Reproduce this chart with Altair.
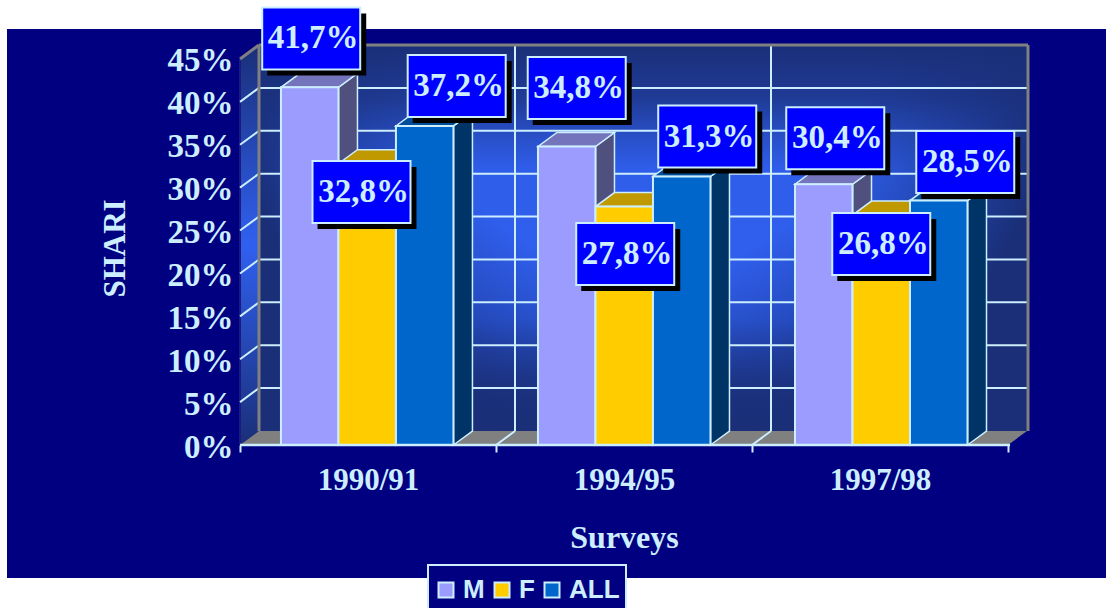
import altair as alt
import pandas as pd

# Survey shares per series, in percent
surveys = ["1990/91", "1994/95", "1997/98"]
series = ["M", "F", "ALL"]
share_m = [41.7, 34.8, 30.4]
share_f = [32.8, 27.8, 26.8]
share_all = [37.2, 31.3, 28.5]
tick_values = [0, 5, 10, 15, 20, 25, 30, 35, 40, 45]

# Placement of the value boxes relative to each bar's top centre, in pixels
box_dx = [[1.5, -5.7, 32], [10, 1, 25.5], [11.5, 0, 26.5]]
box_dy = [[-48.8, 28.4, -40], [-58.5, 47.5, -40], [-46, 29, -38.5]]

# Plot area and the pixel size of one unit on each scale
PLOT_W, PLOT_H = 788, 400
PX_X = 256.0
PX_Y = 8.578
DX = 19 / PX_X
DY = 14 / PX_Y
X_MAX = PLOT_W / PX_X
Y_MAX = PLOT_H / PX_Y
BAR_W = 0.2246
GROUP_START = [0.16, 1.164, 2.168]
BOX_W, BOX_H = 98 / PX_X, 62 / PX_Y

NAVY = "#000080"
PALE = "#cceeff"
GREY = "#808080"
FRONT = {"M": "#9c9cff", "F": "#ffcc00", "ALL": "#0066cc"}
TOP = {"M": "#7474bc", "F": "#c09900", "ALL": "#004d99"}
SIDE = {"M": "#50507f", "F": "#806600", "ALL": "#003366"}
SERIF = "Liberation Serif"

x_scale = alt.Scale(domain=[0, X_MAX], nice=False, zero=False)
y_scale = alt.Scale(domain=[0, Y_MAX], nice=False, zero=False)

# Assemble the bar faces and the value boxes
fronts, tops, sides, boxes = [], [], [], []
for g, start in enumerate(GROUP_START):
    for s, (name, values) in enumerate(zip(series, [share_m, share_f, share_all])):
        v = values[g]
        x0 = start + s * BAR_W
        x1 = x0 + BAR_W
        bar_id = f"{g}-{name}"
        fronts.append({"series": name, "x0": x0, "x1": x1, "v": v})
        for x, lo, hi in [
            (x0, v, v),
            (x0 + DX, v, v + DY),
            (x1, v, v + DY),
            (x1 + DX, v + DY, v + DY),
        ]:
            tops.append({"bar": bar_id, "x": x, "lo": lo, "hi": hi, "face": TOP[name]})
        for x, lo, hi in [(x1, 0, v), (x1 + DX, DY, v + DY)]:
            sides.append({"bar": bar_id, "x": x, "lo": lo, "hi": hi, "face": SIDE[name]})
        cx = (x0 + x1) / 2 + box_dx[g][s] / PX_X
        cy = v - box_dy[g][s] / PX_Y
        boxes.append({
            "cx": cx, "cy": cy,
            "bx0": cx - BOX_W / 2, "bx1": cx + BOX_W / 2,
            "by0": cy - BOX_H / 2, "by1": cy + BOX_H / 2,
            "sx0": cx - BOX_W / 2 + 5 / PX_X, "sx1": cx + BOX_W / 2 + 6 / PX_X,
            "sy0": cy - BOX_H / 2 - 6 / PX_Y, "sy1": cy + BOX_H / 2 - 6 / PX_Y,
            "tx": cx + 2 / PX_X,
            "label": f"{v:.1f}".replace(".", ",") + "%",
        })
fronts, tops, sides, boxes = map(pd.DataFrame, (fronts, tops, sides, boxes))

h_grid = pd.DataFrame({"y": [t + DY for t in tick_values[1:-1]]})
slants = pd.DataFrame(
    [{"t": t, "x": 0, "y": t} for t in tick_values[1:]]
    + [{"t": t, "x": DX, "y": t + DY} for t in tick_values[1:]]
)
floor_slants = pd.DataFrame(
    [{"t": i, "x": i, "y": 0} for i in (1, 2)]
    + [{"t": i, "x": i + DX, "y": DY} for i in (1, 2)]
)
v_grid = pd.DataFrame({"x": [1 + DX, 2 + DX]})
wall = pd.DataFrame({"x0": [DX], "x1": [X_MAX], "y0": [DY], "y1": [Y_MAX]})
floor = pd.DataFrame({"x": [0, DX, 3.0, 3.0 + DX], "lo": [0, 0, 0, DY], "hi": [0, DY, DY, DY]})
left_wall = pd.DataFrame({"x": [0, DX], "lo": [0, DY], "hi": [45, Y_MAX]})

label_expr = " : ".join(
    f"datum.value == {i + 0.5} ? '{name}'" for i, name in enumerate(surveys)
) + " : ''"

x_axis = alt.Axis(
    values=[0, 0.5, 1, 1.5, 2, 2.5, 3],
    labelExpr=label_expr,
    labelFont=SERIF, labelFontWeight="bold", labelFontSize=31, labelColor=PALE,
    labelAngle=0, labelPadding=13, labelOverlap=False, labelFlush=False,
    domain=False, grid=False, tickSize=7, tickWidth=2, zindex=1,
    tickColor=alt.expr(f"datum.value % 1 == 0 ? '{PALE}' : 'transparent'"),
    title="Surveys", titleFont=SERIF, titleFontWeight="bold", titleFontSize=32, titleColor=PALE,
    titleX=384, titleY=102, titleAnchor="middle", titleBaseline="alphabetic",
)
y_axis = alt.Axis(
    values=tick_values,
    labelExpr="datum.value + '%'",
    labelFont=SERIF, labelFontWeight="bold", labelFontSize=33, labelColor=PALE,
    labelPadding=7, labelOffset=2, labelOverlap=False, labelFlush=False, zindex=1,
    domain=False, grid=False, ticks=False, tickSize=0,
    title="SHARI", titleFont=SERIF, titleFontWeight="bold", titleFontSize=31, titleColor=PALE,
    titleX=-109, titleY=203, titleAnchor="middle", titleAngle=270,
)

# Dark panel behind the whole chart
panel = alt.Chart(pd.DataFrame({"a": [0]})).mark_rect(color=NAVY).encode(
    x=alt.value(-233), x2=alt.value(866), y=alt.value(-16), y2=alt.value(533)
)

# Back wall: a horizontal glow, darkened towards the top and bottom by an overlay
wall_fill = alt.RadialGradient(
    gradient="radial", x1=0.5, y1=0.25, r1=0.0, x2=0.5, y2=0.25, r2=0.54,
    stops=[
        alt.GradientStop(offset=0.0, color="#3060f0"),
        alt.GradientStop(offset=0.55, color="#3060f0"),
        alt.GradientStop(offset=0.78, color="#2448b8"),
        alt.GradientStop(offset=1.0, color="#1a2f78"),
    ],
)
wall_layer = alt.Chart(wall).mark_rect(fill=wall_fill).encode(
    x=alt.X("x0:Q", scale=x_scale, axis=x_axis),
    x2="x1:Q",
    y=alt.Y("y0:Q", scale=y_scale, axis=y_axis),
    y2="y1:Q",
)
wall_shade = alt.LinearGradient(
    gradient="linear", x1=0, y1=0, x2=0, y2=1,
    stops=[
        alt.GradientStop(offset=0.0, color="rgba(26,47,120,1)"),
        alt.GradientStop(offset=0.14, color="rgba(26,47,120,0.75)"),
        alt.GradientStop(offset=0.22, color="rgba(26,47,120,0.4)"),
        alt.GradientStop(offset=0.32, color="rgba(26,47,120,0.05)"),
        alt.GradientStop(offset=0.71, color="rgba(26,47,120,0)"),
        alt.GradientStop(offset=0.82, color="rgba(26,47,120,0.45)"),
        alt.GradientStop(offset=0.92, color="rgba(26,47,120,0.9)"),
        alt.GradientStop(offset=1.0, color="rgba(26,47,120,1)"),
    ],
)
shade_layer = alt.Chart(wall).mark_rect(fill=wall_shade).encode(
    x=alt.X("x0:Q", scale=x_scale), x2="x1:Q", y=alt.Y("y0:Q", scale=y_scale), y2="y1:Q"
)

left_fill = alt.LinearGradient(
    gradient="linear", x1=0, y1=0, x2=0, y2=1,
    stops=[
        alt.GradientStop(offset=0.0, color="#1a2f78"),
        alt.GradientStop(offset=0.5, color="#3060f0"),
        alt.GradientStop(offset=1.0, color="#1a2f78"),
    ],
)
left_layer = alt.Chart(left_wall).mark_area(fill=left_fill).encode(
    x=alt.X("x:Q", scale=x_scale), y=alt.Y("lo:Q", scale=y_scale), y2="hi:Q"
)
left_edge = alt.Chart(pd.DataFrame({"a": [0]})).mark_rule(color="#1a1a80", strokeWidth=2).encode(
    x=alt.datum(0, scale=x_scale), y=alt.datum(0, scale=y_scale), y2=alt.datum(45)
)
floor_layer = alt.Chart(floor).mark_area(fill=GREY).encode(
    x=alt.X("x:Q", scale=x_scale), y=alt.Y("lo:Q", scale=y_scale), y2="hi:Q"
)

# Gridlines on the back wall, the left wall and the floor
h_layer = alt.Chart(h_grid).mark_rule(color=PALE, strokeWidth=2).encode(
    x=alt.datum(DX, scale=x_scale), x2=alt.datum(X_MAX), y=alt.Y("y:Q", scale=y_scale)
)
v_layer = alt.Chart(v_grid).mark_rule(color=PALE, strokeWidth=2).encode(
    x=alt.X("x:Q", scale=x_scale), y=alt.datum(DY, scale=y_scale), y2=alt.datum(Y_MAX)
)
slant_layer = alt.Chart(slants[slants.t < 45]).mark_line(color=PALE, strokeWidth=2).encode(
    x=alt.X("x:Q", scale=x_scale), y=alt.Y("y:Q", scale=y_scale), detail="t:N"
)
floor_slant_layer = alt.Chart(floor_slants).mark_line(color=PALE, strokeWidth=2).encode(
    x=alt.X("x:Q", scale=x_scale), y=alt.Y("y:Q", scale=y_scale), detail="t:N"
)

# Grey frame around the walls
top_slant = alt.Chart(slants[slants.t == 45]).mark_line(color=GREY, strokeWidth=3).encode(
    x=alt.X("x:Q", scale=x_scale), y=alt.Y("y:Q", scale=y_scale)
)
frame_top = alt.Chart(wall).mark_rule(color=GREY, strokeWidth=3).encode(
    x=alt.X("x0:Q", scale=x_scale), x2="x1:Q", y=alt.Y("y1:Q", scale=y_scale)
)
frame_left = alt.Chart(wall).mark_rule(color=GREY, strokeWidth=3).encode(
    x=alt.X("x0:Q", scale=x_scale), y=alt.Y("y0:Q", scale=y_scale), y2="y1:Q"
)
frame_right = alt.Chart(wall).mark_rule(color=GREY, strokeWidth=3).encode(
    x=alt.X("x1:Q", scale=x_scale), y=alt.Y("y0:Q", scale=y_scale), y2="y1:Q"
)

# Three-dimensional bars: side faces, then top faces, then front faces
side_layer = alt.Chart(sides).mark_area(stroke=PALE, strokeWidth=1.5).encode(
    x=alt.X("x:Q", scale=x_scale), y=alt.Y("lo:Q", scale=y_scale), y2="hi:Q",
    fill=alt.Fill("face:N", scale=None, legend=None), detail="bar:N",
)
top_layer = alt.Chart(tops).mark_area(stroke=PALE, strokeWidth=1.5).encode(
    x=alt.X("x:Q", scale=x_scale), y=alt.Y("lo:Q", scale=y_scale), y2="hi:Q",
    fill=alt.Fill("face:N", scale=None, legend=None), detail="bar:N",
)
front_layer = alt.Chart(fronts).mark_rect(stroke=PALE, strokeWidth=2).encode(
    x=alt.X("x0:Q", scale=x_scale), x2="x1:Q",
    y=alt.Y("v:Q", scale=y_scale), y2=alt.datum(0),
    color=alt.Color(
        "series:N",
        scale=alt.Scale(domain=series, range=[FRONT[s] for s in series]),
        legend=alt.Legend(
            title=None, orient="none", legendX=193, legendY=532,
            direction="horizontal", columns=3, symbolType="square", symbolSize=225,
            symbolStrokeColor=PALE, symbolStrokeWidth=2, symbolOpacity=1,
            labelFont="Liberation Sans", labelFontWeight="bold", labelFontSize=26,
            labelColor=PALE, labelOffset=4, columnPadding=4, padding=0,
        ),
    ),
)

# Axis line along the front of the floor
base_line = alt.Chart(pd.DataFrame({"a": [0]})).mark_rule(color=PALE, strokeWidth=2.5).encode(
    x=alt.datum(0, scale=x_scale), x2=alt.datum(3 + 0.008), y=alt.datum(0, scale=y_scale)
)

# Value boxes with hard drop shadows
shadow_layer = alt.Chart(boxes).mark_rect(color="#000000").encode(
    x=alt.X("sx0:Q", scale=x_scale), x2="sx1:Q", y=alt.Y("sy0:Q", scale=y_scale), y2="sy1:Q"
)
box_layer = alt.Chart(boxes).mark_rect(fill="#0000ff", stroke=PALE, strokeWidth=2).encode(
    x=alt.X("bx0:Q", scale=x_scale), x2="bx1:Q", y=alt.Y("by0:Q", scale=y_scale), y2="by1:Q"
)
text_layer = alt.Chart(boxes).mark_text(
    font=SERIF, fontWeight="bold", fontSize=33, color=PALE, align="center", baseline="middle"
).encode(
    x=alt.X("tx:Q", scale=x_scale), y=alt.Y("cy:Q", scale=y_scale), text="label:N"
)

# Frame behind the legend entries, running off the bottom edge
legend_box = alt.Chart(pd.DataFrame({"a": [0]})).mark_rect(
    fill=NAVY, stroke=PALE, strokeWidth=2
).encode(
    x=alt.value(188), x2=alt.value(386), y=alt.value(520), y2=alt.value(580)
)

chart = alt.layer(
    panel, legend_box, wall_layer, shade_layer, left_layer, left_edge, floor_layer,
    h_layer, v_layer, slant_layer, floor_slant_layer,
    top_slant, frame_top, frame_left, frame_right,
    side_layer, top_layer, front_layer, base_line,
    shadow_layer, box_layer, text_layer,
).properties(
    width=PLOT_W, height=PLOT_H,
    padding={"left": 240, "top": 45, "right": 78, "bottom": 163},
    autosize=alt.AutoSizeParams(type="none"),
    background="#ffffff",
).configure_view(stroke=None)

chart.save("out.html", embed_options={"renderer": "svg", "actions": False})
